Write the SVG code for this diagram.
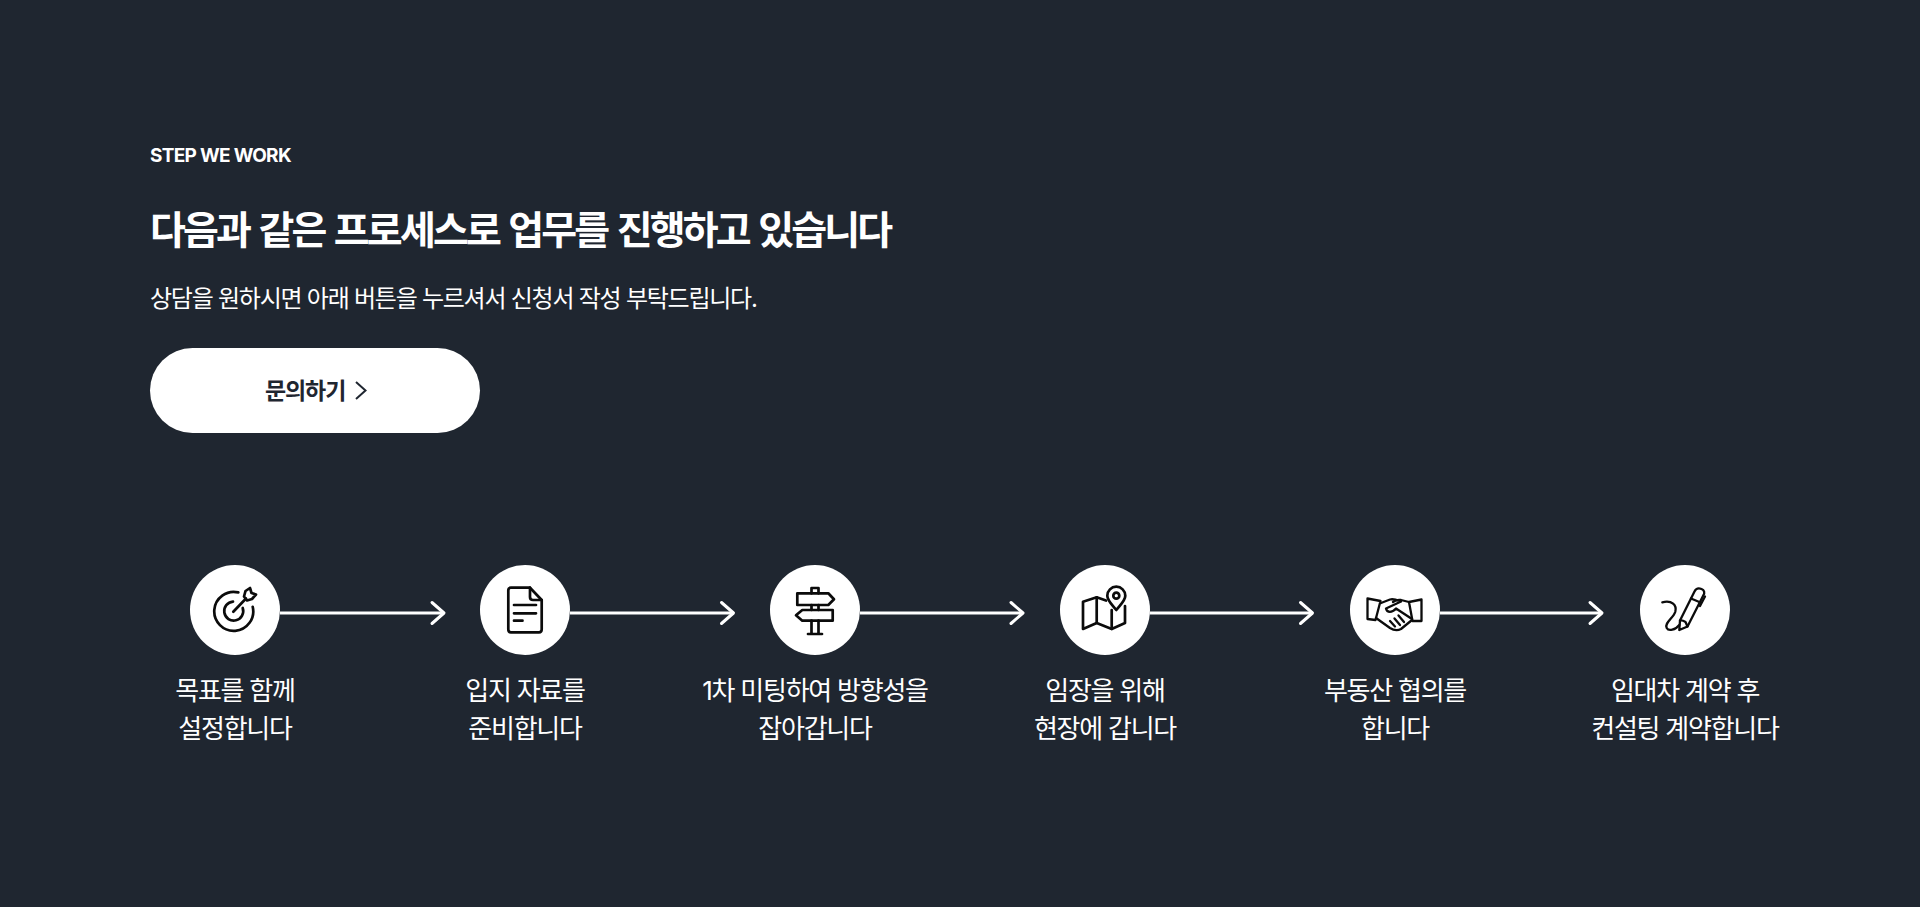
<svg xmlns="http://www.w3.org/2000/svg" width="1920" height="907" viewBox="0 0 1920 907">
<style>
text{font-family:Inter,"Noto Sans CJK KR",sans-serif;fill:#fff}
.lab{font-size:26px;font-weight:400;text-anchor:middle;letter-spacing:-1.25px}
.c{fill:#fff}
.i{fill:none;stroke:#0b0b0b;stroke-width:2.7;stroke-linejoin:round;stroke-linecap:round}
.t{stroke-width:2.3}
.conn{stroke:#fff;stroke-width:3;fill:none;marker-end:url(#ah)}
</style>
<defs>
<marker id="ah" markerUnits="userSpaceOnUse" viewBox="-14 -12 16 24" refX="0" refY="0" markerWidth="16" markerHeight="24" orient="auto" overflow="visible">
<path d="M-12-10.500 0 0-12 10.500" fill="none" stroke="#fff" stroke-width="3" stroke-linecap="round" stroke-linejoin="round"/>
</marker>
</defs>
<rect width="1920" height="907" fill="#1f2630"/>
<g id="header">
<text x="150" y="162" font-size="19" font-weight="700" letter-spacing="-0.7">STEP WE WORK</text>
<text x="150" y="244" font-size="39" font-weight="700" letter-spacing="-2.86" word-spacing="3">다음과 같은 프로세스로 업무를 진행하고 있습니다</text>
<text x="150" y="307" font-size="24" font-weight="400" letter-spacing="-1.25">상담을 원하시면 아래 버튼을 누르셔서 신청서 작성 부탁드립니다.</text>
</g>
<g id="button">
<rect x="150" y="348" width="330" height="85" rx="42.500" fill="#fff"/>
<text x="265" y="399" font-size="23" font-weight="600" letter-spacing="-1.1" style="fill:#1f2630">문의하기</text>
<path d="M356 382l9.500 8.500-9.500 8.500" fill="none" stroke="#1f2630" stroke-width="2"/>
</g>
<g id="connectors">
<line class="conn" x1="280" y1="613" x2="444" y2="613"/>
<line class="conn" x1="570" y1="613" x2="733.500" y2="613"/>
<line class="conn" x1="860" y1="613" x2="1023" y2="613"/>
<line class="conn" x1="1150" y1="613" x2="1312.500" y2="613"/>
<line class="conn" x1="1440" y1="613" x2="1602" y2="613"/>
</g>
<g id="step1">
<circle class="c" cx="235" cy="610" r="45"/>
<g class="i" transform="translate(235 610)">
<path d="M3.300-17.600A19.500 19.500 0 1 0 17.700-3.200"/>
<path d="M-2-8.400A9.500 9.500 0 1 0 7.700-2"/>
<path d="M-1.700 1.700 11-11.500"/>
<path d="M9-13.500 10.500-19 15-22 16.500-17 21-15.500 17-11 12-9.500Z"/>
</g>
<text class="lab" x="235" y="700">목표를 함께</text>
<text class="lab" x="235" y="738">설정합니다</text>
</g>
<g id="step2">
<circle class="c" cx="525" cy="610" r="45"/>
<g class="i" transform="translate(525 610)">
<path d="M-14-22.300H5L16.700-10V19.500Q16.700 22.300 14 22.300H-14Q-16.700 22.300-16.700 19.500V-19.500Q-16.700-22.300-14-22.300Z"/>
<path d="M5-22.300V-13Q5-10 8-10H16.700"/>
<path d="M-11-5H11M-11 3.300H11M-11 10.700H-2.500"/>
</g>
<text class="lab" x="525" y="700">입지 자료를</text>
<text class="lab" x="525" y="738">준비합니다</text>
</g>
<g id="step3">
<circle class="c" cx="815" cy="610" r="45"/>
<g class="i" transform="translate(815 610)">
<path d="M-3.500-16.700V-22H3.500V-16.700"/>
<path d="M-17.700-16.700H13.300L19-10.700 13.300-5H-17.700Z"/>
<path d="M-3.500-5V0M3.500-5V0"/>
<path d="M-12.700 0H17.700V10.700H-12.700L-19 5.300Z"/>
<path d="M-3.500 10.700V24M3.500 10.700V24M-7 24H7"/>
</g>
<text class="lab" x="815" y="700">1차 미팅하여 방향성을</text>
<text class="lab" x="815" y="738">잡아갑니다</text>
</g>
<g id="step4">
<circle class="c" cx="1105" cy="610" r="45"/>
<g class="i" transform="translate(1105 610)">
<path d="M1-9.500-8.300-12.700-22-8.300V19L-8.300 13 6.700 19 20 13V-4"/>
<path d="M-8.300-12.700V13M6.700 0V19"/>
<path d="M11.300 0C7-5.500 2.300-9.500 2.300-14.300A9 9 0 0 1 20.300-14.300C20.300-9.500 15.500-5.500 11.300 0Z"/>
<circle cx="11.300" cy="-14.300" r="3"/>
</g>
<text class="lab" x="1105" y="700">임장을 위해</text>
<text class="lab" x="1105" y="738">현장에 갑니다</text>
</g>
<g id="step5">
<circle class="c" cx="1395" cy="610" r="45"/>
<g class="i t" transform="translate(1395 610)">
<path d="M-27.500-11.500-14.500-9-19.500 10-27.500 9Z"/>
<path d="M26.500-10.500 14-8 17.500 11 26.500 11Z"/>
<path d="M-14-7-5-10.500C-1-11.500 2-10 6-8.500L-9-1.500C-8 3-3 3 1-1.500L17 9"/>
<path d="M14-8 6-10C3-10.500 0-9.500-2-8"/>
<path d="M-19 8-5 18C-1 20.500 2 21 6 19L17 10"/>
<path d="M-5 11 0 16.500M-.5 8.500 5 15M3.500 5.500 9 12"/>
</g>
<text class="lab" x="1395" y="700">부동산 협의를</text>
<text class="lab" x="1395" y="738">합니다</text>
</g>
<g id="step6">
<circle class="c" cx="1685" cy="610" r="45"/>
<g class="i t" transform="translate(1685 610)">
<path d="M-5.700 20-5 10.500 9.500-18.500C11-21.500 14-22 16.500-21S20.500-17.500 18-14L2.500 16.500Z"/>
<path d="M-5 10.500C-3 10-1 11 .5 12L2.500 16.500"/>
<path d="M6-11.500 15.500-7.500"/>
<path d="M15-4 20-13.500"/>
<path d="M-22.700-7.700C-13-10-8-5-9.700 1.700-11.500 8-21 13-18.300 18-16.500 21.500-9.500 20-5.700 15"/>
</g>
<text class="lab" x="1685" y="700">임대차 계약 후</text>
<text class="lab" x="1685" y="738">컨설팅 계약합니다</text>
</g>
</svg>
